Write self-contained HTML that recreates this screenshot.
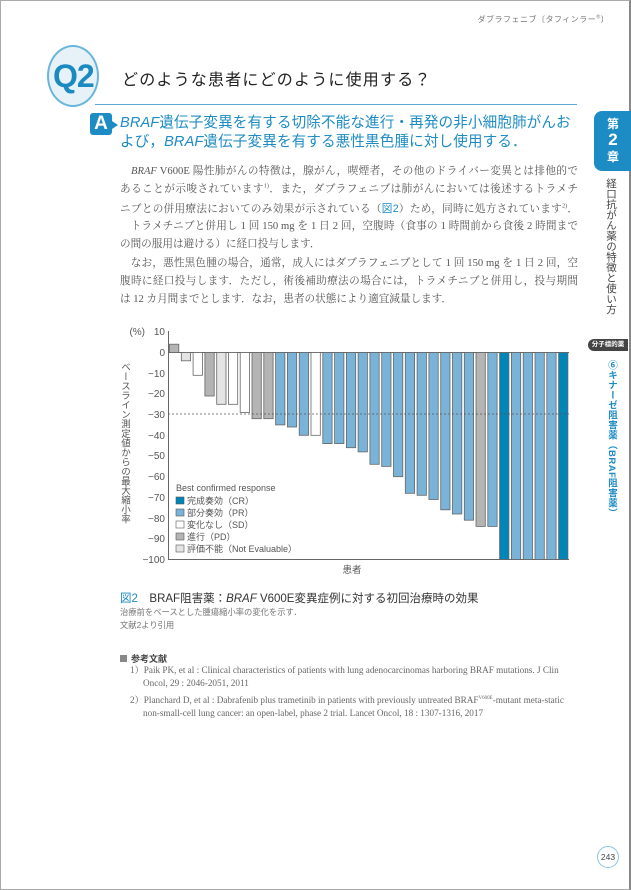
<!DOCTYPE html>
<html><head><meta charset="utf-8">
<style>
*{margin:0;padding:0;box-sizing:border-box}
body{width:631px;height:890px;position:relative;background:#fff;font-family:"Liberation Sans","Noto Sans CJK JP",sans-serif;color:#444;overflow:hidden}
.pg{position:absolute;left:0;top:0;width:631px;height:890px;border:1px solid #aaa;border-right:2px solid #888}
.a{position:absolute;white-space:nowrap}
.body{position:absolute;left:120px;top:163px;width:458px;font-family:"Liberation Serif","Noto Serif CJK SC",serif;font-size:10.6px;color:#555}
.body div{height:18.35px;line-height:18.35px;text-align:justify;text-align-last:justify;white-space:nowrap;overflow:visible}
.body div.l{text-align-last:left}
.ref{font-family:"Liberation Serif","Noto Serif CJK SC",serif;font-size:9.2px;color:#666;line-height:13px}
sup{line-height:0}
</style></head><body>
<div class="pg"></div>
<div class="a" style="right:22px;top:14px;font-size:8px;color:#777;letter-spacing:0.5px">ダブラフェニブ〔タフィンラー<sup style="font-size:5px">®</sup>〕</div>

<div class="a" style="left:47px;top:45px;width:52px;height:62px;border-radius:50%;background:#e6f2f8;border:2px solid #6ab6da"></div>
<div class="a" style="left:53px;top:56px;font-size:32px;color:#1b8ac0;letter-spacing:-1px;line-height:40px;font-weight:bold">Q2</div>
<div class="a" style="left:122px;top:66px;font-size:16px;color:#222;letter-spacing:1.2px">どのような患者にどのように使用する？</div>
<div class="a" style="left:95px;top:104px;width:482px;height:1px;background:#5aaad6"></div>

<div class="a" style="left:90px;top:113px;width:22px;height:22px;background:#1d8cc4;border-radius:3px;color:#fff;font-size:19px;font-weight:bold;text-align:center;line-height:22px">A</div>
<div class="a" style="left:112px;top:121px;width:0;height:0;border-left:6px solid #1d8cc4;border-top:4px solid transparent;border-bottom:4px solid transparent"></div>
<div class="a" style="left:120px;top:114px;font-size:14.6px;color:#1d8cc4;line-height:19px;letter-spacing:0.1px"><i>BRAF</i>遺伝子変異を有する切除不能な進行・再発の非小細胞肺がんお<br>よび，<i>BRAF</i>遺伝子変異を有する悪性黒色腫に対し使用する．</div>

<div class="body">
<div>　<i>BRAF</i> V600E 陽性肺がんの特徴は，腺がん，喫煙者，その他のドライバー変異とは排他的で</div>
<div>あることが示唆されています<sup style="font-size:6px">1)</sup>．また，ダブラフェニブは肺がんにおいては後述するトラメチ</div>
<div>ニブとの併用療法においてのみ効果が示されている（<span style="color:#1d8cc4;font-family:'Liberation Sans','Noto Sans CJK JP',sans-serif">図2</span>）ため，同時に処方されています<sup style="font-size:6px">2)</sup>．</div>
<div>　トラメチニブと併用し 1 回 150 mg を 1 日 2 回，空腹時（食事の 1 時間前から食後 2 時間まで</div>
<div class="l">の間の服用は避ける）に経口投与します．</div>
<div>　なお，悪性黒色腫の場合，通常，成人にはダブラフェニブとして 1 回 150 mg を 1 日 2 回，空</div>
<div>腹時に経口投与します．ただし，術後補助療法の場合には，トラメチニブと併用し，投与期間</div>
<div class="l">は 12 カ月間までとします．なお，患者の状態により適宜減量します．</div>
</div>

<!-- sidebar -->
<div class="a" style="left:594px;top:111px;width:38px;height:60px;background:#1d8cc4;border-radius:8px 0 0 8px;color:#fff;font-weight:bold;text-align:center;font-size:12px;line-height:16px;padding-top:5px">第<br><span style="font-size:17px">2</span><br>章</div>
<div class="a" style="left:604px;top:178px;writing-mode:vertical-rl;font-size:10.5px;color:#444;letter-spacing:0px">経口抗がん薬の特徴と使い方</div>
<div class="a" style="left:588px;top:339px;width:40px;height:12px;background:#444;border-radius:6px 0 0 6px;color:#fff;font-size:6.5px;line-height:12px;text-align:center;font-weight:bold">分子標的薬</div>
<div class="a" style="left:604px;top:360px;writing-mode:vertical-rl;font-size:9.5px;color:#1d8cc4;font-weight:bold;letter-spacing:0.5px">⑥キナーゼ阻害薬（BRAF阻害薬）</div>

<!-- chart -->
<svg class="a" style="left:0;top:0" width="631" height="890" font-family="Liberation Sans,Noto Sans CJK JP,sans-serif">
<g font-size="10" fill="#555" text-anchor="end">
<text x="165" y="335">10</text><text x="165" y="356">0</text><text x="165" y="377">−10</text><text x="165" y="397">−20</text><text x="165" y="418">−30</text><text x="165" y="439">−40</text><text x="165" y="459">−50</text><text x="165" y="480">−60</text><text x="165" y="501">−70</text><text x="165" y="522">−80</text><text x="165" y="542">−90</text><text x="165" y="563">−100</text>
<text x="145" y="335">(%)</text>
</g>
<line x1="168.5" y1="331" x2="168.5" y2="559.5" stroke="#666" stroke-width="1"/>
<line x1="168" y1="559.5" x2="569" y2="559.5" stroke="#666" stroke-width="1"/>
<line x1="168" y1="352.5" x2="569" y2="352.5" stroke="#666" stroke-width="1"/>
<g stroke="#666" stroke-width="0.8" id="bars"></g>
<line x1="168" y1="414" x2="569" y2="414" stroke="#555" stroke-width="0.8" stroke-dasharray="2,2"/>
<text x="352" y="573" font-size="9.5" fill="#555" text-anchor="middle">患者</text>
<g font-size="9" fill="#555">
<text x="176" y="491">Best confirmed response</text>
<rect x="176" y="497" width="8" height="7" fill="#0085b8" stroke="#555" stroke-width="0.6"/><text x="187" y="504">完成奏効（CR）</text>
<rect x="176" y="509" width="8" height="7" fill="#7ab3d8" stroke="#555" stroke-width="0.6"/><text x="187" y="516">部分奏効（PR）</text>
<rect x="176" y="521" width="8" height="7" fill="#fff" stroke="#555" stroke-width="0.6"/><text x="187" y="528">変化なし（SD）</text>
<rect x="176" y="533" width="8" height="7" fill="#b4b4b4" stroke="#555" stroke-width="0.6"/><text x="187" y="540">進行（PD）</text>
<rect x="176" y="545" width="8" height="7" fill="#e4e4e4" stroke="#555" stroke-width="0.6"/><text x="187" y="552">評価不能（Not Evaluable）</text>
</g>
</svg>
<div class="a" style="left:117px;top:362px;writing-mode:vertical-rl;font-size:9.5px;color:#555">ベースライン測定値からの最大縮小率</div>

<div class="a" style="left:120px;top:590px;font-size:11.5px;color:#333"><span style="color:#1d8cc4">図2</span>　BRAF阻害薬：<i>BRAF</i> V600E変異症例に対する初回治療時の効果</div>
<div class="a" style="left:120px;top:606px;font-size:8.3px;color:#777;line-height:13px">治療前をベースとした腫瘍縮小率の変化を示す．<br>文献2より引用</div>

<div class="a" style="left:120px;top:652px;font-size:9px;color:#444;font-weight:bold"><span style="display:inline-block;width:7px;height:7px;background:#888;margin-right:4px"></span>参考文献</div>
<div class="a ref" style="left:130px;top:664px;width:452px;white-space:normal;padding-left:13px;text-indent:-13px">1）Paik PK, et al : Clinical characteristics of patients with lung adenocarcinomas harboring BRAF mutations. J Clin Oncol, 29 : 2046-2051, 2011</div>
<div class="a ref" style="left:130px;top:694px;width:452px;white-space:normal;padding-left:13px;text-indent:-13px">2）Planchard D, et al : Dabrafenib plus trametinib in patients with previously untreated BRAF<sup style="font-size:5px">V600E</sup>-mutant meta-static non-small-cell lung cancer: an open-label, phase 2 trial. Lancet Oncol, 18 : 1307-1316, 2017</div>

<div class="a" style="left:597px;top:846px;width:22px;height:22px;border-radius:50%;border:1px solid #8cc4e4;font-size:8.5px;color:#444;text-align:center;line-height:20px">243</div>

<script>
var v=[[4,'PD'],[-4,'NE'],[-11,'SD'],[-21,'PD'],[-25,'NE'],[-25,'SD'],[-29,'SD'],[-32,'PD'],[-32,'PD'],[-35,'PR'],[-36,'PR'],[-40,'PR'],[-40,'SD'],[-44,'PR'],[-44,'PR'],[-46,'PR'],[-48,'PR'],[-54,'PR'],[-55,'PR'],[-60,'PR'],[-68,'PR'],[-69,'PR'],[-71,'PR'],[-76,'PR'],[-78,'PR'],[-81,'PR'],[-84,'PD'],[-84,'PR'],[-100,'CR'],[-100,'PR'],[-100,'PR'],[-100,'PR'],[-100,'PR'],[-100,'CR']];
var c={CR:'#0085b8',PR:'#7ab3d8',SD:'#fff',PD:'#b4b4b4',NE:'#e4e4e4'};
var g=document.getElementById('bars'),s='';
v.forEach(function(d,i){var x=169.5+i*11.79,y0=352.5,y1=352.5-d[0]*2.07;var t=Math.min(y0,y1),h=Math.abs(y1-y0);
s+='<rect x="'+x.toFixed(1)+'" y="'+t.toFixed(1)+'" width="9.3" height="'+h.toFixed(1)+'" fill="'+c[d[1]]+'"/>';});
g.innerHTML=s;
</script>
</body></html>
